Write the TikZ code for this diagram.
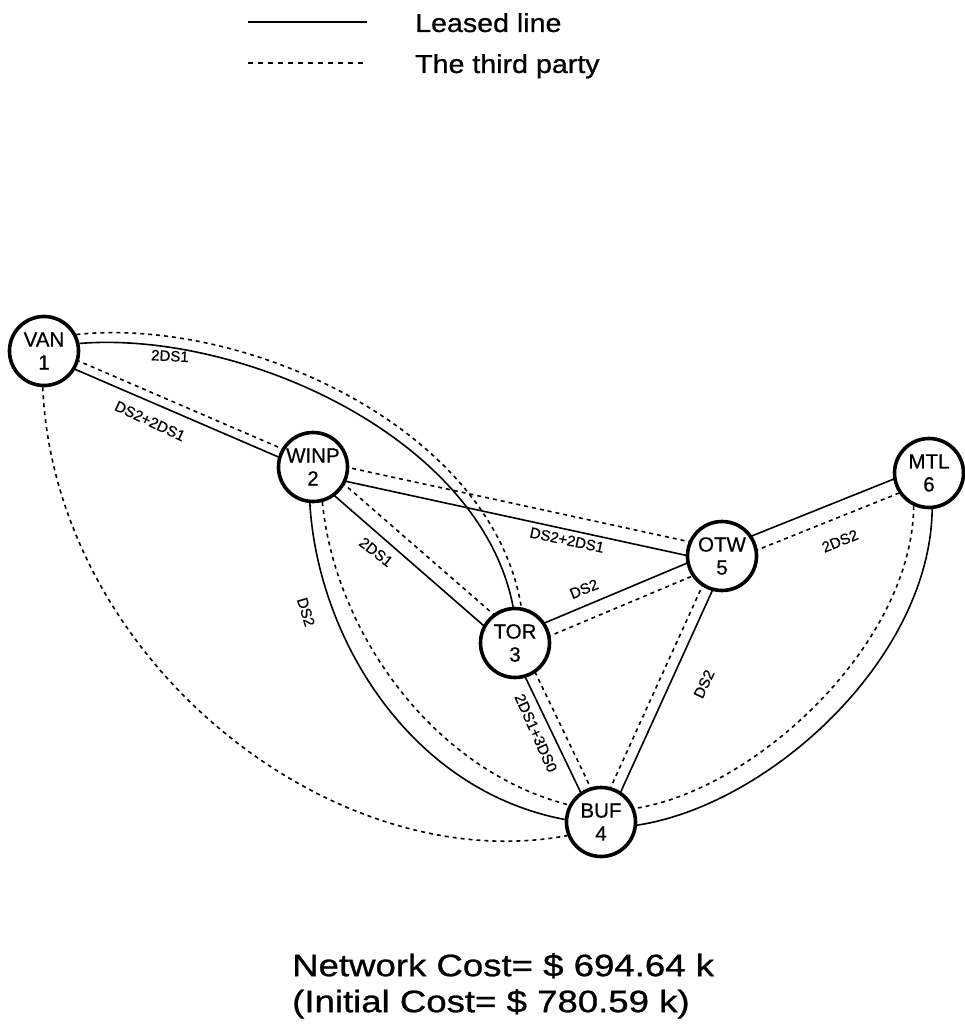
\documentclass[tikz,border=0pt]{standalone}
\usepackage{fontspec}
\setmainfont{Liberation Sans}[FakeBold=0.6]
\newfontfamily\legendsf[FakeStretch=1.1,FakeBold=0.8]{Liberation Sans}
\newfontfamily\costsf[FakeStretch=1.18,FakeBold=0.9]{Liberation Sans}
\usetikzlibrary{calc,backgrounds}

% a pair of parallel links: solid on the left of #1 -> #2, dashed on the right,
% #3 is half the gap between them
\newcommand\duo[3]{%
  \draw[leased] ($(#1)!#3!90:(#2)$) -- ($(#2)!#3!-90:(#1)$);
  \draw[party]  ($(#1)!#3!-90:(#2)$) -- ($(#2)!#3!90:(#1)$);}

\begin{document}
\begin{tikzpicture}[x=1pt,y=-1pt,
  site/.style={circle,draw,line width=3.6pt,fill=white,minimum size=69pt,
    inner sep=0pt,align=center,font=\fontsize{20.5}{23}\selectfont},
  leased/.style={line width=1.6pt},
  party/.style={line width=1.6pt,dash pattern=on 4pt off 4pt},
  linklabel/.style={font=\fontsize{15}{17}\selectfont,inner sep=1pt},
  legendtext/.style={font=\legendsf\fontsize{26}{28}\selectfont,inner sep=0pt},
]
\useasboundingbox (0,0) rectangle (965,1032);

% legend
\coordinate (solA) at (248,22);
\coordinate (solB) at (367,22);
\coordinate (dashA) at (248,63);
\coordinate (dashB) at (367,63);
\draw[leased] (solA) -- (solB);
\draw[line width=1.6pt,dash pattern=on 5pt off 5pt] (dashA) -- (dashB);
\node[legendtext,anchor=base west] (tsol) at (415,32) {Leased line};
\node[legendtext,anchor=base west] (tdash) at (415,73) {The third party};

% sites
\node[site] (van)  at (44,351)  {VAN\\1};
\node[site] (winp) at (313,467) {WINP\\2};
\node[site] (tor)  at (515,643) {TOR\\3};
\node[site] (buf)  at (601,822) {BUF\\4};
\node[site] (otw)  at (722,556) {OTW\\5};
\node[site] (mtl)  at (929,473) {MTL\\6};

\begin{pgfonlayer}{background}
  % straight links
  \duo{winp}{van}{4.5pt}
  \duo{otw}{winp}{7pt}
  \duo{tor}{winp}{7.5pt}
  \duo{tor}{otw}{7pt}
  \duo{buf}{tor}{5.5pt}
  \duo{otw}{buf}{5.5pt}
  \duo{otw}{mtl}{7.5pt}
  % curved links
  \draw[leased] (van.12)  .. controls +(160,-13) and +(-33,-171) .. (tor.93);
  \draw[party]  (van.27)  .. controls +(168,-18) and +(-29,-179) .. (tor.80);
  \draw[party]  (van.268) .. controls +(12,272)  and +(-236,44)  .. (buf.202);
  \draw[leased] (winp.265) .. controls +(8,136)  and +(-154,-29) .. (buf.176);
  \draw[party]  (winp.285) .. controls +(12,127) and +(-138,-35) .. (buf.152);
  \draw[leased] (mtl.275) .. controls +(-2,150)  and +(132,-20)  .. (buf.-5);
  \draw[party]  (mtl.245) .. controls +(-1,138)  and +(120,-18)  .. (buf.22);
\end{pgfonlayer}

% capacities
\node[linklabel,rotate=-25] (c12) at (150,421) {DS2+2DS1};
\node[linklabel,rotate=-3]  (c13) at (170,356) {2DS1};
\node[linklabel,rotate=-12] (c25) at (567,540) {DS2+2DS1};
\node[linklabel,rotate=-38] (c23) at (376,552) {2DS1};
\node[linklabel,rotate=-73] (c24) at (306,612) {DS2};
\node[linklabel,rotate=22]  (c35) at (584,589) {DS2};
\node[linklabel,rotate=-66] (c34) at (536,733) {2DS1+3DS0};
\node[linklabel,rotate=65]  (c54) at (704,684) {DS2};
\node[linklabel,rotate=22]  (c56) at (840,541) {2DS2};

% totals
\node[anchor=north west,align=left,inner sep=0pt,
  font=\costsf\fontsize{31}{36}\selectfont] (cost) at (292,953)
  {Network Cost= \$ 694.64 k\\(Initial Cost= \$ 780.59 k)};
\end{tikzpicture}
\end{document}
